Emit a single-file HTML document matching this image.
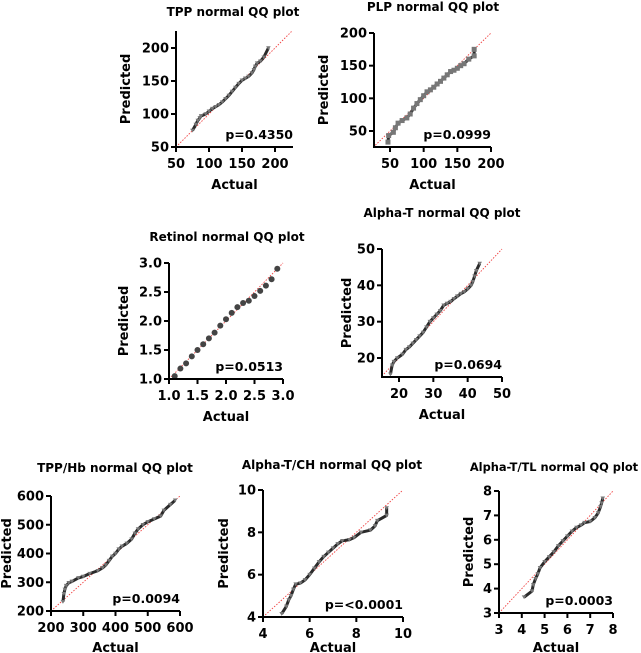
<!DOCTYPE html>
<html><head><meta charset="utf-8">
<style>
html,body{margin:0;padding:0;background:#fff;}
svg{display:block;font-family:"DejaVu Sans","Liberation Sans",sans-serif;font-weight:bold;}
</style></head>
<body>
<svg id="fig" width="641" height="653" viewBox="0 0 641 653" xmlns="http://www.w3.org/2000/svg"></svg>
<script>
// ---- data arrays (actual, predicted) ----
const tppActual = [75,80,83,86,88,95,100,105,110,115,120,125,130,135,140,145,150,155,160,165,168,170,173,178,183,190];
const tppPred   = [75,84,90,94,97,100,104,108,111,114,118,123,128,134,140,146,151,154,157,162,167,172,177,180,186,200];
const plpActual = [47,48,55,58,62,68,75,80,85,90,95,100,105,110,115,120,125,130,135,140,145,150,155,160,167,175,175];
const plpPred   = [33,43,48,55,62,66,70,76,85,92,98,104,110,113,117,122,126,131,136,141,143,146,150,153,160,165,175];
const retActual = [1.1,1.2,1.3,1.4,1.5,1.6,1.7,1.8,1.9,2.0,2.1,2.2,2.3,2.4,2.5,2.6,2.7,2.8,2.9];
const retPred   = [1.05,1.18,1.27,1.39,1.5,1.6,1.7,1.8,1.92,2.03,2.14,2.24,2.31,2.35,2.43,2.52,2.61,2.72,2.9];
const atActual  = [17.5,18,18.5,19.5,21,22,23,24,25,26,27,28,29,30,31,32,33,34,35,36,37,38,39,40,41,41.5,42,42.5,43.5];
const atPred    = [15.5,18,19,20,21,22.3,23,24,25,26,27,28.5,30,31,32,33,34.5,35,35.5,36.3,37,37.7,38.2,39,40,41,42.5,44,46];
const hbActual  = [237,240,243,247,255,265,285,300,320,345,360,370,380,390,400,410,420,435,450,460,470,485,500,520,540,550,570,585];
const hbPred    = [232,260,275,288,298,303,315,320,330,340,350,360,375,390,400,415,425,435,450,470,485,500,510,520,530,550,570,585];
const chActual  = [4.8,5.0,5.1,5.2,5.3,5.4,5.6,5.8,6.0,6.2,6.4,6.6,6.8,7.0,7.2,7.4,7.7,7.9,8.2,8.6,8.8,8.9,9.3,9.3];
const chPred    = [4.15,4.5,4.8,5.0,5.3,5.55,5.6,5.75,6.0,6.3,6.6,6.85,7.05,7.25,7.45,7.6,7.65,7.75,8.0,8.1,8.3,8.55,8.8,9.15];
const tlActual  = [4.1,4.45,4.5,4.6,4.7,4.8,5.0,5.2,5.4,5.6,5.8,6.0,6.2,6.4,6.6,6.75,7.0,7.2,7.35,7.45,7.5,7.55];
const tlPred    = [3.65,3.9,4.15,4.4,4.6,4.85,5.1,5.3,5.5,5.75,5.95,6.15,6.35,6.5,6.6,6.7,6.75,6.9,7.1,7.35,7.5,7.7];

const tppTicks = ["50","100","150","200"];
const plpTicks = ["50","100","150","200"];
const retTicks = ["1.0","1.5","2.0","2.5","3.0"];
const atTicks  = ["20","30","40","50"];
const hbTicks  = ["200","300","400","500","600"];
const chTicks  = ["4","6","8","10"];
const tlTicks  = ["3","4","5","6","7","8"];
const pValues  = ["p=0.4350","p=0.0999","p=0.0513","p=0.0694","p=0.0094","p=<0.0001","p=0.0003"];

const NS="http://www.w3.org/2000/svg";
const svg=document.getElementById('fig');
function mk(tag,attrs,parent){const e=document.createElementNS(NS,tag);for(const k in attrs)e.setAttribute(k,attrs[k]);(parent||svg).appendChild(e);return e;}

const panels=[
 {id:'tpp',title:'TPP normal QQ plot',tx:233,ty:16,tf:12,x0:176,xEnd:293,y0:147,yTop:31,min:50,max:225,
  xv0:176,xv1:275,yv0:147,yv1:48,v0:50,v1:200,ticks:tppTicks,ax:tppActual,pr:tppPred,mark:'tri',p:pValues[0],ptitle:-50},
 {id:'plp',title:'PLP normal QQ plot',tx:433,ty:11,tf:12,x0:374,xEnd:491,y0:147,yTop:33,min:25,max:200,
  xv0:390,xv1:491,yv0:131,yv1:33,v0:50,v1:200,ticks:plpTicks,ax:plpActual,pr:plpPred,mark:'sq',p:pValues[1],ptitle:-50},
 {id:'retinol',title:'Retinol normal QQ plot',tx:227,ty:241,tf:12,x0:169,xEnd:283,y0:379,yTop:263,min:1,max:3,
  xv0:169,xv1:283,yv0:379,yv1:263,v0:1,v1:3,ticks:retTicks,ax:retActual,pr:retPred,mark:'circ',p:pValues[2],ptitle:-45},
 {id:'alpha-t',title:'Alpha-T normal QQ plot',tx:442,ty:217,tf:12,x0:382,xEnd:502,y0:377,yTop:249,min:15,max:50,
  xv0:399,xv1:502,yv0:358,yv1:249,v0:20,v1:50,ticks:atTicks,ax:atActual,pr:atPred,mark:'tri',p:pValues[3],ptitle:-35},
 {id:'tpp-hb',title:'TPP/Hb normal QQ plot',tx:115,ty:472,tf:12,x0:51,xEnd:180,y0:611,yTop:496,min:200,max:600,
  xv0:51,xv1:180,yv0:611,yv1:496,v0:200,v1:600,ticks:hbTicks,ax:hbActual,pr:hbPred,mark:'tri',p:pValues[4],ptitle:-44},
 {id:'alpha-t-ch',title:'Alpha-T/CH normal QQ plot',tx:332,ty:469,tf:12,x0:263,xEnd:403,y0:617,yTop:490,min:4,max:10,
  xv0:263,xv1:403,yv0:617,yv1:490,v0:4,v1:10,ticks:chTicks,ax:chActual,pr:chPred,mark:'tri',p:pValues[5],ptitle:-39},
 {id:'alpha-t-tl',title:'Alpha-T/TL normal QQ plot',tx:554,ty:471,tf:11.4,x0:499,xEnd:613,y0:613,yTop:491,min:3,max:8,
  xv0:499,xv1:613,yv0:613,yv1:491,v0:3,v1:8,ticks:tlTicks,ax:tlActual,pr:tlPred,mark:'tri',p:pValues[6],ptitle:-30},
];

panels.forEach(P=>{
  const sx=v=>P.xv0+(v-P.v0)*(P.xv1-P.xv0)/(P.v1-P.v0);
  const sy=v=>P.yv0+(v-P.v0)*(P.yv1-P.yv0)/(P.v1-P.v0);
  const g=mk('g',{});
  
  
  const t=mk('text',{x:P.tx,y:P.ty,'text-anchor':'middle','font-size':P.tf},g);t.textContent=P.title;
  
  
  const rl=mk('line',{x1:sx(P.min),y1:sy(P.min),x2:sx(P.max),y2:sy(P.max),stroke:'#f04040','stroke-width':'0.9','stroke-dasharray':'1.5,1.5'},g);
  
  
  if(P.mark!=='circ'){
    const pts=P.ax.map((a,i)=>sx(a)+','+sy(P.pr[i])).join(' ');
    const pl=mk('polyline',{points:pts,fill:'none',stroke:'#2a2a2a','stroke-width':'3','stroke-linejoin':'round'},g);
    
    
  }
  P.ax.forEach((a,i)=>{
    const x=sx(a),y=sy(P.pr[i]);let m;
    if(P.mark==='circ') m=mk('circle',{cx:x,cy:y,r:3,fill:'#444'},g);
    else if(P.mark==='sq') m=mk('rect',{x:x-2.5,y:y-2.5,width:5,height:5,fill:'#777'},g);
    else m=mk('path',{d:`M${x-2.3},${y-1.8}L${x+2.3},${y-1.8}L${x},${y+2}Z`,fill:'#777'},g);
    
    
  });
  const ya=mk('line',{x1:P.x0,y1:P.yTop,x2:P.x0,y2:P.y0+1,stroke:'#000','stroke-width':'2'},g);
  
  
  const xa=mk('line',{x1:P.x0-1,y1:P.y0,x2:P.xEnd,y2:P.y0,stroke:'#000','stroke-width':'2'},g);
  
  
  P.ticks.forEach(lbl=>{
    const v=parseFloat(lbl);
    const yy=sy(v),xx=sx(v);
    mk('line',{x1:P.x0-5,y1:yy,x2:P.x0,y2:yy,stroke:'#000','stroke-width':'2'},g);
    const yl=mk('text',{x:P.x0-7,y:yy+4.5,'text-anchor':'end','font-size':'13'},g);yl.textContent=lbl;
    
    
    mk('line',{x1:xx,y1:P.y0,x2:xx,y2:P.y0+5,stroke:'#000','stroke-width':'2'},g);
    const xl=mk('text',{x:xx,y:P.y0+21,'text-anchor':'middle','font-size':'13'},g);xl.textContent=lbl;
    
    
  });
  const xt=mk('text',{x:(P.x0+P.xEnd)/2,y:Math.min(P.y0+42,652),'text-anchor':'middle','font-size':'13'},g);xt.textContent='Actual';
  
  
  const cy=(P.y0+P.yTop)/2, cx=P.x0+P.ptitle;
  const yt=mk('text',{x:cx,y:cy,'text-anchor':'middle','font-size':'13',transform:`rotate(-90 ${cx} ${cy}) translate(0 4)`},g);yt.textContent='Predicted';
  
  
  const pl2=mk('text',{x:P.xEnd,y:P.y0-8,'text-anchor':'end','font-size':'12.5'},g);pl2.textContent=P.p;
  
  
});
</script>
</body></html>
